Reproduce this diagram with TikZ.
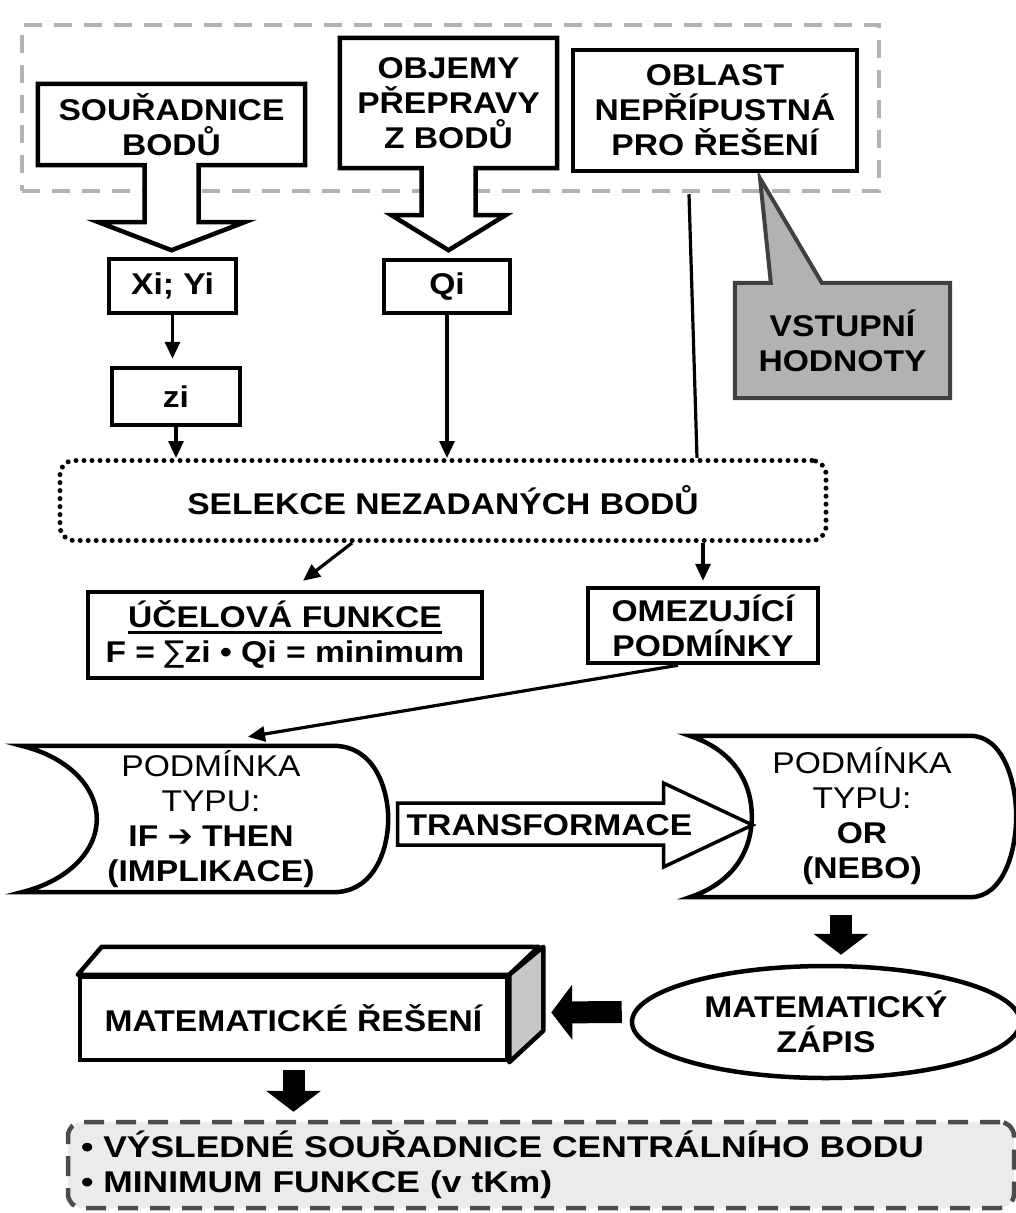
\documentclass[tikz,border=0pt]{standalone}
\usepackage{fontspec}
\setmainfont[FakeStretch=1.12]{Liberation Sans}
\newfontfamily\widesans[FakeStretch=1.18]{Liberation Sans}
\newfontfamily\symb{DejaVu Sans}
\usetikzlibrary{arrows.meta,shapes.geometric,calc,backgrounds}
\newcommand{\thickul}[1]{\setbox0\hbox{#1}\rlap{\rule[-6pt]{\wd0}{3pt}}\box0}

\begin{document}
\begin{tikzpicture}[x=1pt, y=-1pt, every node/.style={font=\fontsize{30}{35}\selectfont\bfseries}]
\tikzstyle{box}=[draw, line width=4.5pt, fill=white, align=center, inner sep=0pt]
\tikzstyle{txt}=[align=center, inner sep=0pt]
\tikzstyle{outl}=[line width=4.5pt, fill=white]
\tikzstyle{conn}=[line width=3.2pt, -{Triangle[length=17pt,width=15pt]}]
\tikzstyle{fat}=[line width=22pt, -{Triangle[length=21pt,width=54pt]}]
\useasboundingbox (0,0) rectangle (1016,1213);

\node[txt, minimum width=267pt, minimum height=81pt] (soura) at (171.5,124.5) {SOUŘADNICE\\BODŮ};
\node[txt, minimum width=217pt, minimum height=130pt] (objemy) at (448.5,103) {OBJEMY\\PŘEPRAVY\\Z BODŮ};
\node[box, minimum width=284pt, minimum height=121pt] (oblast) at (715,110.5) {OBLAST\\NEPŘÍPUSTNÁ\\PRO ŘEŠENÍ};
\node[txt, minimum width=215pt, minimum height=115pt] (vst) at (842.5,340.5) {VSTUPNÍ\\HODNOTY};
\begin{scope}[on background layer]
\node[draw=black!30, line width=4.5pt, dash pattern=on 18pt off 12pt, minimum width=857pt, minimum height=166pt] (vstupy) at (450.5,108) {};
\draw[outl] (soura.south west) |- (soura.north east) |- ($(soura.south)+(27,0)$) -- ++(0,57) -- ++(46,0) -- ($(soura.south)+(0,85)$) -- ++(-73,-28) -- ++(46,0) -- ($(soura.south)+(-27,0)$) -- cycle;
\draw[outl] (objemy.south west) |- (objemy.north east) |- ($(objemy.south)+(27,0)$) -- ++(0,47) -- ++(30,0) -- ($(objemy.south)+(0,82)$) -- ++(-57,-35) -- ++(30,0) -- ($(objemy.south)+(-27,0)$) -- cycle;
\draw[line width=4pt, draw=black!75, fill=black!30] (vst.north west) -- ++(36,0) -- ($(oblast.south)+(45,5)$) -- ($(vst.north west)+(87,0)$) -- (vst.north east) -- (vst.south east) -- (vst.south west) -- cycle;
\end{scope}

\node[box, minimum width=127pt, minimum height=54pt] (xiyi) at (172.5,286) {Xi; Yi};
\node[box, minimum width=126pt, minimum height=53pt] (qi) at (447,286.5) {Qi};
\node[box, minimum width=128pt, minimum height=57pt] (zi) at (176,396.5) {zi};
\node[draw, line width=5pt, line cap=round, dash pattern=on 0pt off 8pt, rounded corners=14pt, minimum width=766pt, minimum height=80pt] (selekce) at (443,500.5) {SELEKCE NEZADANÝCH BODŮ};
\node[box, minimum width=394pt, minimum height=86pt] (ucelova) at (285,635) {\thickul{ÚČELOVÁ FUNKCE}\\F = {\symb\mdseries ∑}zi • Qi = minimum};
\node[box, minimum width=230pt, minimum height=75pt] (omez) at (703,625.5) {OMEZUJÍCÍ\\PODMÍNKY};
\coordinate (oblend) at ($(oblast.south)+(-26,21)$);

\draw[conn, shorten >=7pt] (xiyi.south) -- (xiyi.south |- zi.north);
\draw[conn] (zi.south) -- (zi.south |- selekce.north);
\draw[conn] (qi.south) -- (qi.south |- selekce.north);
\draw[line width=3.2pt] (oblend) -- ($(selekce.north)+(254,0)$);
\draw[conn] ($(selekce.south)+(-91,0)$) -- ($(ucelova.north)+(18,-9)$);
\draw[conn] (omez.north |- selekce.south) -- ($(omez.north)+(0,-5)$);

\node[txt, minimum width=378pt, minimum height=146pt] (p1) at (211,819) {{\mdseries PODMÍNKA}\\{\mdseries TYPU:}\\IF {\symb ➔} THEN\\(IMPLIKACE)};
\draw[line width=4.5pt] (p1.north west) -- ($(p1.north east)+(-67,0)$) .. controls +(42,0) and +(0,-29) .. ($(p1.east)+(-12,0)$) .. controls +(0,29) and +(42,0) .. ($(p1.south east)+(-67,0)$) -- (p1.south west) .. controls +(48,-12) and +(0,31) .. ($(p1.west)+(75,0)$) .. controls +(0,-31) and +(48,12) .. (p1.north west) -- cycle;
\draw[conn] ($(omez.south)+(-25,0)$) -- ($(p1.north)+(37,-9)$);

\node[txt] (trans) at (549.5,825) {TRANSFORMACE};
\begin{scope}[on background layer]
\draw[outl, line width=3.5pt, shift={(trans.center)}] (-152,-22) -- (114,-22) -- (114,-42) -- (203,0) -- (114,42) -- (114,20) -- (-152,20) -- cycle;
\end{scope}

\node[txt, minimum width=344pt, minimum height=161pt] (p2) at (862,816.5) {{\mdseries PODMÍNKA}\\{\mdseries TYPU:}\\OR\\(NEBO)};
\draw[line width=4.5pt] (p2.north west) -- ($(p2.north east)+(-64,0)$) .. controls +(33,0) and +(0,-35) .. ($(p2.east)+(-18,0)$) .. controls +(0,35) and +(33,0) .. ($(p2.south east)+(-64,0)$) -- (p2.south west) .. controls +(42,-14) and +(0,36) .. ($(p2.west)+(62,0)$) .. controls +(0,-36) and +(42,14) .. (p2.north west) -- cycle;

\node[draw, ellipse, line width=4.5pt, fill=white, minimum width=388pt, minimum height=112pt, inner sep=0pt, align=center] (zapis) at (826,1022) {MATEMATICKÝ\\ZÁPIS};
\node[box, minimum width=427pt, minimum height=83pt] (mat) at (293.5,1018.5) {MATEMATICKÉ ŘEŠENÍ};
\draw[line width=4.5pt, line join=round, fill=white] (mat.north west) -- ++(24,-28) -- ++(437,0) -- (mat.north east) -- cycle;
\draw[line width=4.5pt, line join=round, fill=black!22] (mat.north east) -- ++(34,-28) -- ++(0,84) -- (mat.south east) -- cycle;
\node[draw=black!70, fill=black!8, line width=4.5pt, dash pattern=on 20pt off 12pt, rounded corners=14pt, minimum width=946pt, minimum height=86pt, text width=920pt, align=left, inner sep=0pt, font=\widesans\fontsize{30}{35}\selectfont\bfseries] (vysl) at (541,1165) {• VÝSLEDNÉ SOUŘADNICE CENTRÁLNÍHO BODU\\• MINIMUM FUNKCE (v tKm)};

\draw[fat] ($(p2.south)+(-21,18)$) -- ($(zapis.north)+(15,-9)$);
\draw[fat] ($(zapis.west)+(-8,-10)$) -- ($(mat.east)+(42,-6)$);
\draw[fat] ($(mat.south)+(0,8)$) -- ($(mat.south |- vysl.north)+(0,-8)$);
\end{tikzpicture}
\end{document}
